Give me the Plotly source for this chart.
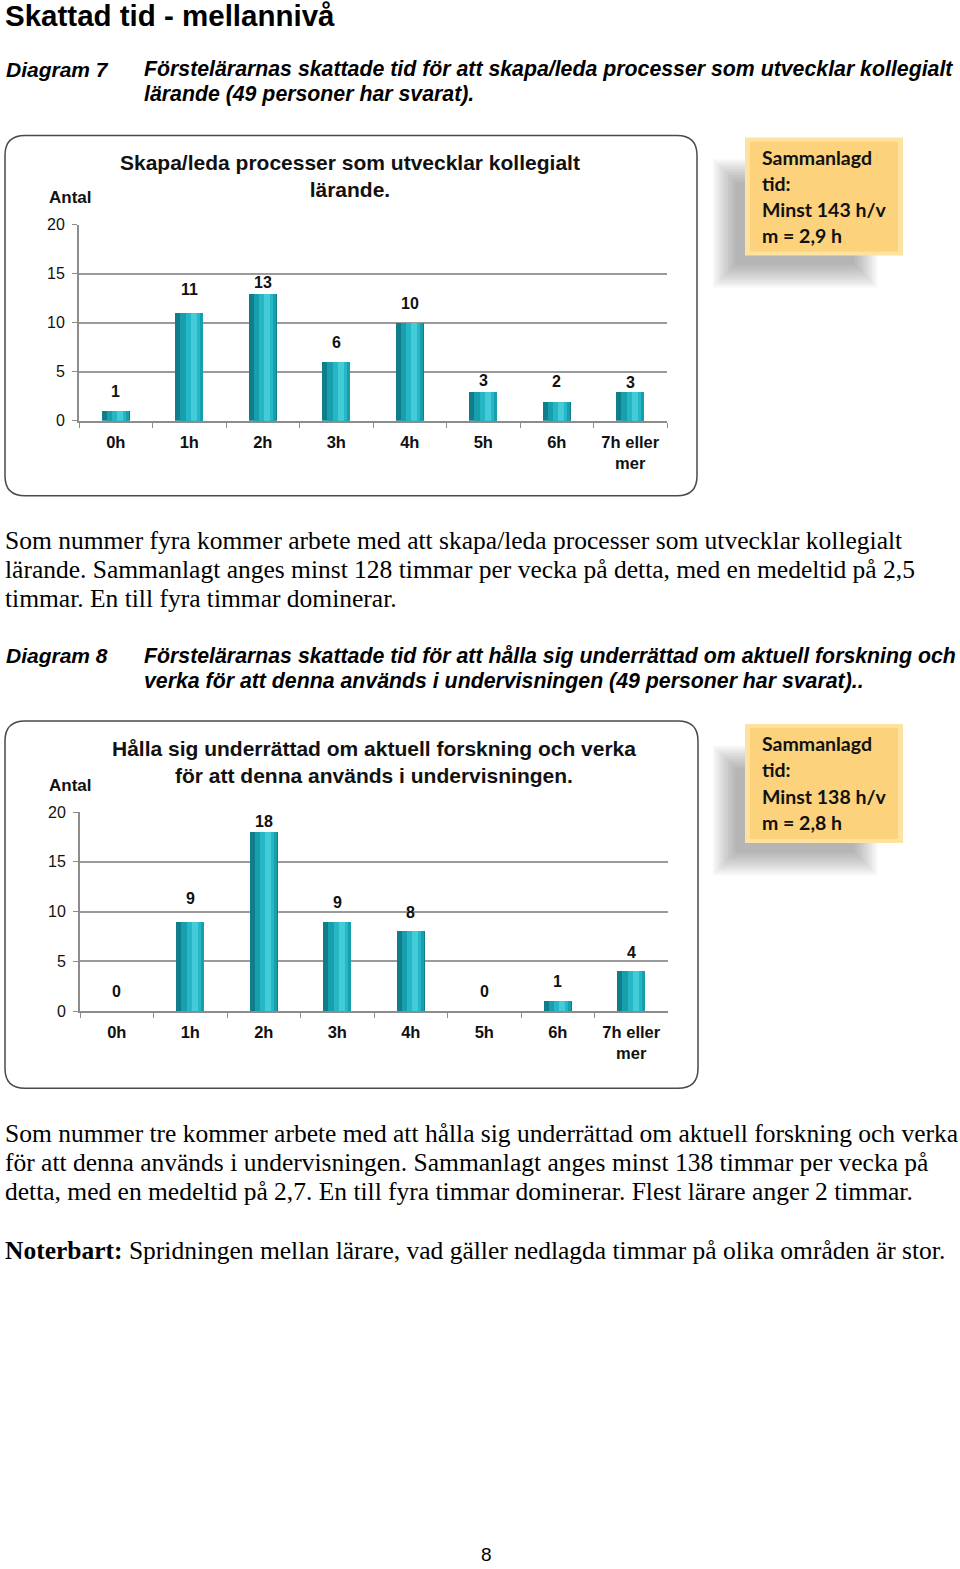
import plotly.graph_objects as go

# ---------------- data ----------------
categories = ["0h", "1h", "2h", "3h", "4h", "5h", "6h", "7h eller<br>mer"]
counts_d7 = [1, 11, 13, 6, 10, 3, 2, 3]
counts_d8 = [0, 9, 18, 9, 8, 0, 1, 4]
y_tickvals = [0, 5, 10, 15, 20]

page_title = "Skattad tid - mellannivå"
d7_label = "Diagram 7"
d7_caption = ["Förstelärarnas skattade tid för att skapa/leda processer som utvecklar kollegialt",
              "lärande (49 personer har svarat)."]
d7_title = "Skapa/leda processer som utvecklar kollegialt<br>lärande."
d7_summary = ["Sammanlagd", "tid:", "Minst 143 h/v", "m = 2,9 h"]
para1 = ["Som nummer fyra kommer arbete med att skapa/leda processer som utvecklar kollegialt",
         "lärande. Sammanlagt anges minst 128 timmar per vecka på detta, med en medeltid på 2,5",
         "timmar. En till fyra timmar dominerar."]
d8_label = "Diagram 8"
d8_caption = ["Förstelärarnas skattade tid för att hålla sig underrättad om aktuell forskning och",
              "verka för att denna används i undervisningen (49 personer har svarat).."]
d8_title = "Hålla sig underrättad om aktuell forskning och verka<br>för att denna används i undervisningen."
d8_summary = ["Sammanlagd", "tid:", "Minst 138 h/v", "m = 2,8 h"]
para2 = ["Som nummer tre kommer arbete med att hålla sig underrättad om aktuell forskning och verka",
         "för att denna används i undervisningen. Sammanlagt anges minst 138 timmar per vecka på",
         "detta, med en medeltid på 2,7. En till fyra timmar dominerar. Flest lärare anger 2 timmar."]
note_bold = "Noterbart:"
note_rest = " Spridningen mellan lärare, vad gäller nedlagda timmar på olika områden är stor."
page_no = "8"

# label offsets (px above bar top) - styling only
shift_d7 = [19, 23, 11, 19, 19, 11, 19, 9]
shift_d8 = [19, 23, 10, 19, 19, 19, 19, 19]

W, H = 960, 1569
VS, VO = 0.9884, 7.6   # vertical calibration of the captured page
def X(px): return px / W
def Y(py): return 1 - ((py - VO) / VS) / H

SANS = "Liberation Sans Narrow, Arial Narrow, Liberation Sans, Arial, sans-serif"
ARIAL = "Liberation Sans, Arial, sans-serif"
SERIF = "Liberation Serif, Times New Roman, serif"
CAL = "Lato, Carlito, Calibri, sans-serif"

fig = go.Figure()

# bar gradient layers: (width, center offset, color)
layers = [(0.38, 0.0, "#0f7d8a"), (0.31, 0.03, "#189fae"),
          (0.19, 0.05, "#25b7c6"), (0.08, 0.06, "#44cbd8")]

charts = [
    dict(vals=counts_d7, shifts=shift_d7, xa="x", ya="y", top=224, bot=420,
         left=79, right=667, box=(5, 135, 697, 495), title=d7_title, title_y=175, title_x=350,
         antal_y=197, summary=d7_summary, sbox=(745, 137, 903, 255)),
    dict(vals=counts_d8, shifts=shift_d8, xa="x2", ya="y2", top=811, bot=1010,
         left=80, right=668, box=(5, 720, 698, 1087), title=d8_title, title_y=761, title_x=374,
         antal_y=784, summary=d8_summary, sbox=(745, 723, 903, 842)),
]

shapes = []
annotations = []

def rounded(x0, y0, x1, y1, r):
    rx, ry = r / W, r / H
    a0, b0, a1, b1 = X(x0), Y(y1), X(x1), Y(y0)
    return (f"M {a0+rx},{b1} L {a1-rx},{b1} Q {a1},{b1} {a1},{b1-ry} "
            f"L {a1},{b0+ry} Q {a1},{b0} {a1-rx},{b0} L {a0+rx},{b0} "
            f"Q {a0},{b0} {a0},{b0+ry} L {a0},{b1-ry} Q {a0},{b1} {a0+rx},{b1} Z")

for i, c in enumerate(charts):
    for (w, off, col) in layers:
        fig.add_trace(go.Bar(x=categories, y=c["vals"], width=w, offset=off - w / 2,
                             marker=dict(color=col, line=dict(width=0)),
                             xaxis=c["xa"], yaxis=c["ya"], hoverinfo="skip",
                             showlegend=False))
    for cat, v, s in zip(categories, c["vals"], c["shifts"]):
        annotations.append(dict(x=cat, y=v, xref=c["xa"], yref=c["ya"], text=f"<b>{v}</b>",
                                showarrow=False, yshift=s / VS, yanchor="middle",
                                font=dict(family=ARIAL, size=16, color="#111")))
    x0, y0, x1, y1 = c["box"]
    shapes.append(dict(type="path", path=rounded(x0, y0, x1, y1, 20), xref="paper", yref="paper",
                       line=dict(color="#4a4a4a", width=1.5), fillcolor="rgba(0,0,0,0)", layer="below"))
    annotations.append(dict(x=X(c["title_x"]), y=Y(c["title_y"]), xref="paper", yref="paper",
                            text=f"<b>{c['title']}</b>", showarrow=False, xanchor="center",
                            yanchor="middle", align="center",
                            font=dict(family=ARIAL, size=21, color="#111")))
    annotations.append(dict(x=X(47), y=Y(c["antal_y"]), xref="paper", yref="paper",
                            text="<b>Antal</b>", showarrow=False, xanchor="left", yanchor="middle",
                            font=dict(family=ARIAL, size=17, color="#111")))
    sx0, sy0, sx1, sy1 = c["sbox"]
    for k in range(10):
        g = k * 2.5
        shapes.append(dict(type="rect", xref="paper", yref="paper",
                           x0=X(sx0 - 32 + g), x1=X(sx1 - 26 - g),
                           y0=Y(sy1 + 32 - g), y1=Y(sy0 + 22 + g),
                           fillcolor="rgba(100,100,100,0.055)", line=dict(width=0), layer="below"))
    shapes.append(dict(type="rect", xref="paper", yref="paper", x0=X(sx0), x1=X(sx1),
                       y0=Y(sy1), y1=Y(sy0), fillcolor="#fde39f",
                       line=dict(width=0), layer="below"))
    shapes.append(dict(type="rect", xref="paper", yref="paper", x0=X(sx0 + 5), x1=X(sx1 - 5),
                       y0=Y(sy1 - 4), y1=Y(sy0 + 4), fillcolor="#fcd27c",
                       line=dict(width=0), layer="below"))
    for j, line in enumerate(c["summary"]):
        annotations.append(dict(x=X(sx0 + 15), y=Y(sy0 + 20 + 26 * j), xref="paper", yref="paper",
                                text=f"<b>{line}</b>", showarrow=False, xanchor="left",
                                yanchor="middle", font=dict(family=CAL, size=19.5, color="#111")))

    axis_common = dict(showline=True, linecolor="#8c8c8c", linewidth=2, ticks="outside",
                       ticklen=5, tickcolor="#8c8c8c", tickwidth=1, zeroline=False)
    xdom = [X(c["left"]), X(c["right"])]
    ydom = [Y(c["bot"]), Y(c["top"])]
    xkey = "xaxis" if i == 0 else "xaxis2"
    ykey = "yaxis" if i == 0 else "yaxis2"
    fig.update_layout({
        xkey: dict(domain=xdom, anchor=c["ya"], type="category", range=[-0.5, 7.5],
                   tickson="boundaries", showgrid=False, ticklabelstandoff=5,
                   tickfont=dict(family=ARIAL, size=16.5, color="#111", weight="bold"),
                   **axis_common),
        ykey: dict(domain=ydom, anchor=c["xa"], range=[0, 20], tickvals=y_tickvals,
                   showgrid=True, gridcolor="#9a9a9a", gridwidth=2,
                   tickfont=dict(family=ARIAL, size=16, color="#111"), ticklabelstandoff=4,
                   **axis_common),
    })

def txt(px, py, s, family, size, bold=False, italic=False, anchor="left"):
    t = s
    if bold: t = f"<b>{t}</b>"
    if italic: t = f"<i>{t}</i>"
    annotations.append(dict(x=X(px), y=Y(py), xref="paper", yref="paper", text=t,
                            showarrow=False, xanchor=anchor, yanchor="middle",
                            font=dict(family=family, size=size, color="#000")))

txt(3, 15, page_title, SANS, 29.5, bold=True)
txt(4, 69, d7_label, SANS, 21, bold=True, italic=True)
for j, s in enumerate(d7_caption):
    txt(142, 69 + 25 * j, s, SANS, 21.3, bold=True, italic=True)
for j, s in enumerate(para1):
    txt(3, 540 + 29 * j, s, SERIF, 25.5)
txt(4, 655, d8_label, SANS, 21, bold=True, italic=True)
for j, s in enumerate(d8_caption):
    txt(142, 655 + 25 * j, s, SANS, 21.3, bold=True, italic=True)
for j, s in enumerate(para2):
    txt(3, 1132 + 29 * j, s, SERIF, 25.5)
txt(3, 1249, f"<b>{note_bold}</b>{note_rest}", SERIF, 25.5)
txt(486, 1553, page_no, ARIAL, 19, anchor="center")

fig.update_layout(width=W, height=H, margin=dict(l=0, r=0, t=0, b=0),
                  paper_bgcolor="white", plot_bgcolor="rgba(0,0,0,0)",
                  barmode="overlay", bargap=0, shapes=shapes, annotations=annotations,
                  showlegend=False)

fig.write_html("out.html", config={"displayModeBar": False}, post_script=(
    "document.body.style.margin='0';"
    "var d=document.querySelector('.plotly-graph-div');"
    "d.style.position='absolute';d.style.left='0px';d.style.top='0px';"))
